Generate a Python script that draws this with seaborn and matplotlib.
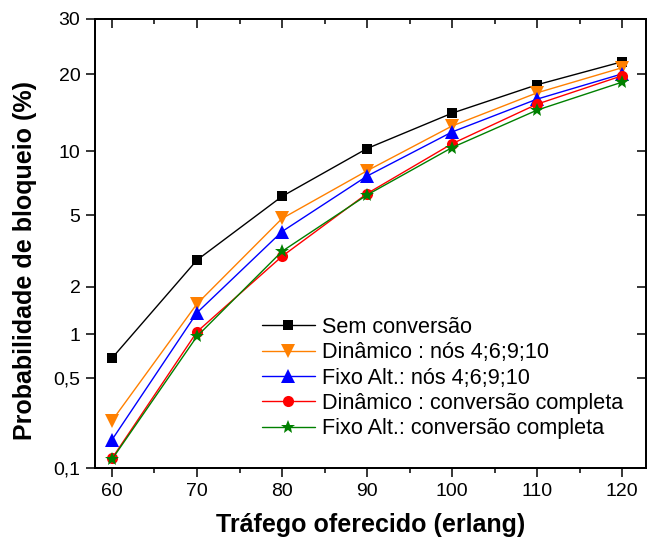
import math
import numpy as np
import pandas as pd
import matplotlib
matplotlib.use("Agg")
import matplotlib.pyplot as plt
from matplotlib.ticker import FixedLocator, NullFormatter
import seaborn as sns

# valores (probabilidade de bloqueio em %)
trafego = [60, 70, 80, 90, 100, 110, 120]
sem_conversao = [0.69, 2.86, 6.2, 10.3, 14.4, 18.4, 22.1]
din_nos = [0.24, 1.57, 4.8, 8.2, 12.8, 17.2, 21.1]
fixo_nos = [0.17, 1.38, 4.1, 7.75, 12.1, 16.3, 20.1]
din_completa = [0.12, 1.04, 3.0, 6.4, 10.8, 15.6, 19.8]
fixo_completa = [0.118, 0.97, 3.2, 6.3, 10.4, 14.8, 18.8]

series = ["Sem conversão", "Dinâmico : nós 4;6;9;10", "Fixo Alt.: nós 4;6;9;10",
          "Dinâmico : conversão completa", "Fixo Alt.: conversão completa"]
cores = ["black", "#FF8000", "#0000FF", "#FF0000", "#008000"]
marcadores = ["s", "v", "^", "o", "*"]

yticks = [0.1, 0.5, 1, 2, 5, 10, 20, 30]
ytick_labels = ["0,1", "0,5", "1", "2", "5", "10", "20", "30"]
xticks = [60, 70, 80, 90, 100, 110, 120]

df = pd.DataFrame({
    "trafego": trafego * 5,
    "prob": sem_conversao + din_nos + fixo_nos + din_completa + fixo_completa,
    "serie": [s for s in series for _ in trafego],
})


# escala de probabilidade (probit), sem scipy
def ndtri(p):
    a = [-3.969683028665376e+01, 2.209460984245205e+02, -2.759285104469687e+02,
         1.383577518672690e+02, -3.066479806614716e+01, 2.506628277459239e+00]
    b = [-5.447609879822406e+01, 1.615858368580409e+02, -1.556989798598866e+02,
         6.680131188771972e+01, -1.328068155288572e+01]
    c = [-7.784894002430293e-03, -3.223964580411365e-01, -2.400758277161838e+00,
         -2.549732539343734e+00, 4.374664141464968e+00, 2.938163982698783e+00]
    d = [7.784695709041462e-03, 3.224671290700398e-01, 2.445134137142996e+00,
         3.754408661907416e+00]
    p = np.clip(np.asarray(p, dtype=float), 1e-12, 1 - 1e-12)
    plow = 0.02425
    q = np.sqrt(-2 * np.log(np.where(p < 0.5, p, 1 - p)))
    tail = (((((c[0]*q + c[1])*q + c[2])*q + c[3])*q + c[4])*q + c[5]) / \
           ((((d[0]*q + d[1])*q + d[2])*q + d[3])*q + 1)
    tail = np.where(p < 0.5, tail, -tail)
    r = (p - 0.5) ** 2
    qq = p - 0.5
    mid = (((((a[0]*r + a[1])*r + a[2])*r + a[3])*r + a[4])*r + a[5])*qq / \
          (((((b[0]*r + b[1])*r + b[2])*r + b[3])*r + b[4])*r + 1)
    return np.where((p < plow) | (p > 1 - plow), tail, mid)


_erfc = np.vectorize(math.erfc)


def fwd(y):
    return ndtri(np.asarray(y, dtype=float) / 100.0)


def inv(z):
    z = np.asarray(z, dtype=float)
    return 100.0 * 0.5 * _erfc(-z / math.sqrt(2))


sns.set_style("ticks")
plt.rcParams["font.family"] = ["Liberation Sans", "DejaVu Sans"]
plt.rcParams.update({"text.color": "black", "axes.labelcolor": "black",
                     "xtick.color": "black", "ytick.color": "black",
                     "axes.edgecolor": "black"})

fig = plt.figure(figsize=(6.47, 5.45), dpi=100)
ax = fig.add_axes([0.1468, 0.1413, 0.8516, 0.8239])
ax.set_yscale("function", functions=(fwd, inv))

sns.lineplot(data=df, x="trafego", y="prob", hue="serie", style="serie",
             hue_order=series, style_order=series,
             palette=dict(zip(series, cores)), markers=dict(zip(series, marcadores)),
             dashes=False, estimator=None, linewidth=1.0, markersize=9,
             markeredgewidth=0, ax=ax)

tamanhos = {"s": 7.5, "v": 10.5, "^": 10.5, "o": 8, "*": 10.5}
for ln, m in zip(ax.lines, marcadores):
    ln.set_markersize(tamanhos[m])

leg = ax.get_legend()
handles = leg.legend_handles
for h, m in zip(handles, marcadores):
    h.set_markersize(tamanhos[m])
labels = [t.get_text() for t in leg.get_texts()]
ax.legend(handles, labels, loc="center left", bbox_to_anchor=(0.303, 0.2),
          frameon=False, fontsize=15.6, handlelength=2.45, handletextpad=0.3,
          labelspacing=0.2, borderpad=0, borderaxespad=0)

ax.set_xlim(58, 122.8)
ax.set_ylim(0.1, 30)
ax.set_xticks(xticks)
ax.xaxis.set_minor_locator(FixedLocator([65, 75, 85, 95, 105, 115]))
ax.set_yticks(yticks, ytick_labels)
ax.yaxis.set_minor_locator(FixedLocator([]))
ax.tick_params(axis="both", which="major", direction="out", length=6.5, width=1.1,
               labelsize=14, pad=4, colors="black")
ax.tick_params(axis="x", which="minor", direction="out", length=3.5, width=1.1)

ax.set_xlabel("Tráfego oferecido (erlang)", fontsize=18, fontweight="bold", labelpad=10)
ax.set_ylabel("Probabilidade de bloqueio (%)", fontsize=18, fontweight="bold")
ax.yaxis.set_label_coords(-0.105, 0.463)

for sp in ax.spines.values():
    sp.set_linewidth(1.2)
    sp.set_color("black")
    sp.set_visible(True)

# eixos de cima e da direita com marcas para dentro
topo = ax.twiny()
topo.set_xlim(ax.get_xlim())
topo.set_xticks(xticks)
topo.xaxis.set_minor_locator(FixedLocator([65, 75, 85, 95, 105, 115]))
topo.tick_params(axis="x", which="major", direction="in", length=6.5, width=1.1,
                 labeltop=False)
topo.tick_params(axis="x", which="minor", direction="in", length=3.5, width=1.1)
topo.xaxis.set_major_formatter(NullFormatter())

dir_ax = ax.twinx()
dir_ax.set_yscale("function", functions=(fwd, inv))
dir_ax.set_ylim(ax.get_ylim())
dir_ax.set_yticks(yticks)
dir_ax.yaxis.set_minor_locator(FixedLocator([]))
dir_ax.yaxis.set_major_formatter(NullFormatter())
dir_ax.tick_params(axis="y", which="major", direction="in", length=6.5, width=1.1)

for a in (topo, dir_ax):
    for sp in a.spines.values():
        sp.set_linewidth(1.2)
        sp.set_color("black")

fig.savefig("out.png", dpi=100)
